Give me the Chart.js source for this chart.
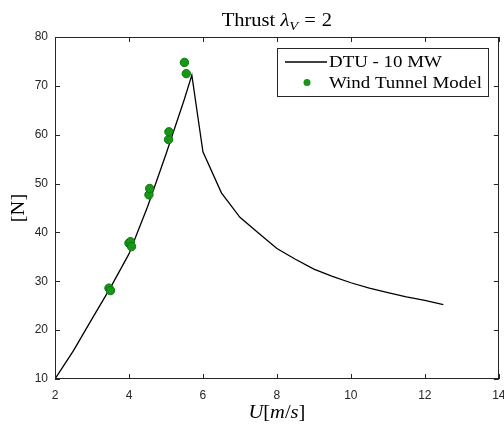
<!DOCTYPE html>
<html>
<head>
<meta charset="utf-8">
<script src="https://cdn.jsdelivr.net/npm/chart.js@4"></script>
<style>
  html, body { margin: 0; padding: 0; background: #fff; }
</style>
</head>
<body>
<canvas id="thrustChart" width="504" height="425"></canvas>
<script>
// DTU 10 MW thrust curve, scaled with lambda_V = 2
const dtuSpeed = [2, 2.5, 3, 3.5, 4, 4.5, 5, 5.5, 5.7, 6, 6.5, 7, 7.5, 8, 8.5, 9, 9.5, 10, 10.5, 11, 11.5, 12, 12.5];
const dtuThrust = [10, 15.8, 22.3, 28.7, 35.6, 45.2, 56, 67.3, 72.2, 56.5, 48.1, 43.1, 39.9, 36.7, 34.5, 32.5, 31.0, 29.7, 28.6, 27.7, 26.8, 26.1, 25.2];

// wind tunnel measurements
const tunnelSpeed = [3.46, 3.50, 4.00, 4.04, 4.07, 4.54, 4.56, 5.07, 5.08, 5.50, 5.55];
const tunnelThrust = [28.6, 28.1, 37.8, 38.1, 37.1, 47.7, 49.0, 59.0, 60.6, 74.8, 72.5];

const xTicks = [2, 4, 6, 8, 10, 12, 14];
const yTicks = [10, 20, 30, 40, 50, 60, 70, 80];

const legendLabels = ["DTU - 10 MW", "Wind Tunnel Model"];

const SERIF = "'Liberation Serif', 'Times New Roman', serif";
const SANS = "'Liberation Sans', Arial, sans-serif";
const AXIS_COLOR = "#262626";
const DOT_FILL = "#179617";
const DOT_EDGE = "#0a780a";
const STRETCH = 1.08; // widen Times a bit toward the LaTeX look

// draws a run of [text, font, dy, gapAfter] pieces starting at x
function drawRuns(ctx, runs, x, y) {
  for (const [txt, font, dy, gap] of runs) {
    ctx.font = font;
    ctx.save();
    ctx.translate(x, y + dy);
    ctx.scale(STRETCH, 1);
    ctx.fillText(txt, 0, 0);
    ctx.restore();
    x += ctx.measureText(txt).width * STRETCH + (gap || 0);
  }
}
function runsWidth(ctx, runs) {
  let w = 0;
  for (const [txt, font, , gap] of runs) {
    ctx.font = font;
    w += ctx.measureText(txt).width * STRETCH + (gap || 0);
  }
  return w;
}

const framePlugin = {
  id: "frame",
  afterDraw(chart) {
    const ctx = chart.ctx;
    const a = chart.chartArea;
    const xs = chart.scales.x, ys = chart.scales.y;
    ctx.save();

    // box
    ctx.strokeStyle = AXIS_COLOR;
    ctx.lineWidth = 1;
    ctx.strokeRect(Math.round(a.left) + 0.5, Math.round(a.top) + 0.5,
      Math.round(a.right - a.left) - 1, Math.round(a.bottom - a.top) - 1);

    // inward ticks on all sides
    const t = 5;
    ctx.beginPath();
    xs.ticks.forEach(tk => {
      const px = Math.round(xs.getPixelForValue(tk.value)) + 0.5;
      ctx.moveTo(px, a.bottom); ctx.lineTo(px, a.bottom - t);
      ctx.moveTo(px, a.top); ctx.lineTo(px, a.top + t);
    });
    ys.ticks.forEach(tk => {
      const py = Math.round(ys.getPixelForValue(tk.value)) + 0.5;
      ctx.moveTo(a.left, py); ctx.lineTo(a.left + t, py);
      ctx.moveTo(a.right, py); ctx.lineTo(a.right - t, py);
    });
    ctx.stroke();

    ctx.fillStyle = "#000";
    ctx.textBaseline = "alphabetic";
    ctx.textAlign = "left";
    const cx = (a.left + a.right) / 2;

    // title: Thrust λ_V = 2
    const title = [
      ["Thrust ", "19px " + SERIF, 0, 0],
      ["λ", "italic 19px " + SERIF, 0, 0],
      ["V", "italic 13.5px " + SERIF, 4, 6],
      ["=", "19px " + SERIF, 0, 6],
      ["2", "19px " + SERIF, 0, 0]
    ];
    drawRuns(ctx, title, cx - runsWidth(ctx, title) / 2, 26);

    // x axis label: U[m/s]
    const xl = [
      ["U", "italic 19px " + SERIF, 0, 0],
      ["[", "19px " + SERIF, 0, 0],
      ["m", "italic 19px " + SERIF, 0, 0],
      ["/", "19px " + SERIF, 0, 0],
      ["s", "italic 19px " + SERIF, 0, 0],
      ["]", "19px " + SERIF, 0, 0]
    ];
    drawRuns(ctx, xl, cx - runsWidth(ctx, xl) / 2, 418);

    // y axis label: [N]
    ctx.save();
    ctx.translate(24, (a.top + a.bottom) / 2);
    ctx.rotate(-Math.PI / 2);
    const yl = [["[N]", "19px " + SERIF, 0, 0]];
    drawRuns(ctx, yl, -runsWidth(ctx, yl) / 2, 0);
    ctx.restore();

    // legend box
    const lx = 277.5, ly = 48.5, lw = 211, lh = 48;
    ctx.fillStyle = "#fff";
    ctx.fillRect(lx, ly, lw, lh);
    ctx.strokeStyle = AXIS_COLOR;
    ctx.strokeRect(lx, ly, lw, lh);

    ctx.strokeStyle = "#000";
    ctx.lineWidth = 1.4;
    ctx.beginPath();
    ctx.moveTo(285, 62); ctx.lineTo(327, 62);
    ctx.stroke();

    ctx.fillStyle = DOT_FILL;
    ctx.beginPath();
    ctx.arc(307, 82.5, 3.5, 0, Math.PI * 2);
    ctx.fill();

    ctx.fillStyle = "#000";
    drawRuns(ctx, [[legendLabels[0], "17.5px " + SERIF, 0, 0]], 329, 67);
    drawRuns(ctx, [[legendLabels[1], "17.5px " + SERIF, 0, 0]], 329, 88);

    ctx.restore();
  }
};

new Chart(document.getElementById("thrustChart"), {
  type: "scatter",
  data: {
    datasets: [
      {
        label: legendLabels[0],
        type: "line",
        data: dtuSpeed.map((u, i) => ({ x: u, y: dtuThrust[i] })),
        borderColor: "#000",
        borderWidth: 1.3,
        pointRadius: 0,
        fill: false,
        tension: 0,
        order: 1
      },
      {
        label: legendLabels[1],
        data: tunnelSpeed.map((u, i) => ({ x: u, y: tunnelThrust[i] })),
        backgroundColor: DOT_FILL,
        borderColor: DOT_EDGE,
        borderWidth: 1,
        pointRadius: 4.2,
        order: 0
      }
    ]
  },
  options: {
    responsive: false,
    animation: false,
    layout: { padding: { top: 37, right: 4, left: 0, bottom: 0 } },
    plugins: {
      legend: { display: false },
      title: { display: false },
      tooltip: { enabled: false }
    },
    scales: {
      x: {
        type: "linear",
        min: 2,
        max: 14,
        afterBuildTicks: s => { s.ticks = xTicks.map(v => ({ value: v })); },
        afterFit: s => { s.height = 46; s.paddingLeft = 0; s.paddingRight = 0; },
        grid: { display: false, drawTicks: false },
        border: { display: false },
        ticks: { padding: 9, color: AXIS_COLOR, font: { family: SANS, size: 12 } }
      },
      y: {
        min: 10,
        max: 80,
        afterBuildTicks: s => { s.ticks = yTicks.map(v => ({ value: v })); },
        afterFit: s => { s.width = 55; s.paddingTop = 0; s.paddingBottom = 0; },
        grid: { display: false, drawTicks: false },
        border: { display: false },
        ticks: { padding: 7, color: AXIS_COLOR, font: { family: SANS, size: 12 } }
      }
    }
  },
  plugins: [framePlugin]
});
</script>
</body>
</html>
